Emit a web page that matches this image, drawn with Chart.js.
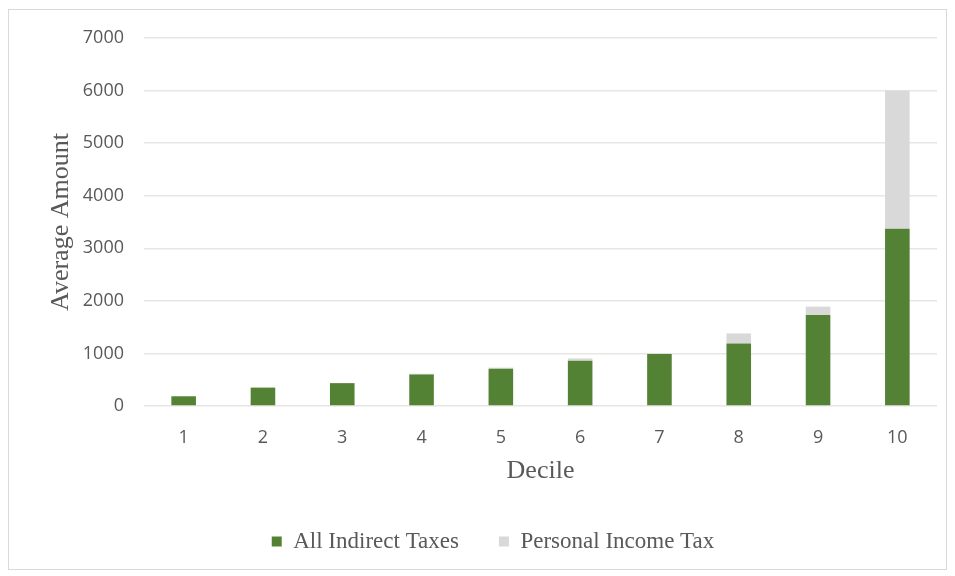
<!DOCTYPE html>
<html>
<head>
<meta charset="utf-8">
<script src="https://cdn.jsdelivr.net/npm/chart.js@4"></script>
<style>
	body { margin: 0; background: #fff; }
	#box {
		position: absolute; left: 8px; top: 9px;
		width: 939px; height: 561px;
		border: 1px solid #d9d9d9; box-sizing: border-box;
	}
</style>
</head>
<body>
<div id="box"><canvas id="chart"></canvas></div>
<script>
// deciles on the x axis
var deciles = ['1', '2', '3', '4', '5', '6', '7', '8', '9', '10'];
// average amounts
var indirectTaxes = [185, 350, 435, 600, 710, 860, 990, 1190, 1730, 3370];
var personalIncomeTax = [0, 0, 0, 15, 20, 45, 10, 190, 160, 2630];
var yTicks = [0, 1000, 2000, 3000, 4000, 5000, 6000, 7000];

var green = '#548235';
var grey = '#d9d9d9';
var textColor = '#595959';
var serif = "'Liberation Serif', 'Times New Roman', serif";
var sans = "'Open Sans', 'Noto Sans', sans-serif";

var ctx = document.getElementById('chart');

var chart = new Chart(ctx, {
	type: 'bar',
	data: {
		labels: deciles,
		datasets: [{
			label: 'All Indirect Taxes',
			data: indirectTaxes,
			backgroundColor: green,
			categoryPercentage: 0.5,
			barPercentage: 0.62
		}, {
			label: 'Personal Income Tax',
			data: personalIncomeTax,
			backgroundColor: grey,
			categoryPercentage: 0.5,
			barPercentage: 0.62
		}]
	},
	options: {
		responsive: true,
		maintainAspectRatio: false,
		animation: false,
		layout: { padding: { top: 28, right: 9, bottom: 6, left: 40 } },
		plugins: {
			tooltip: { enabled: false },
			legend: {
				position: 'bottom',
				labels: {
					boxWidth: 10, boxHeight: 10,
					padding: 40,
					color: textColor,
					font: { family: serif, size: 23 }
				}
			}
		},
		scales: {
			x: {
				stacked: true,
				grid: { display: false },
				border: { display: false },
				ticks: { color: textColor, font: { family: sans, size: 18 }, padding: 13 },
				title: {
					display: true, text: 'Decile', color: textColor,
					font: { family: serif, size: 26 }, padding: { top: 0, bottom: 3 }
				},
				afterFit: function(scale) { scale.height = 84; }
			},
			y: {
				stacked: true,
				min: 0, max: 7000,
				afterBuildTicks: function(scale) {
					scale.ticks = yTicks.map(function(v) { return { value: v }; });
				},
				ticks: {
					color: textColor, font: { family: sans, size: 18 }, padding: 20,
					callback: function(v) { return String(v); }
				},
				grid: { color: '#e6e6e6', lineWidth: 1.5, drawTicks: false },
				border: { display: false },
				title: {
					display: true, text: 'Average Amount', color: textColor,
					font: { family: serif, size: 26 }, padding: { top: -3, bottom: 0 }
				},
				afterFit: function(scale) {
					scale.width = 95;
					scale.paddingTop = 0;
				}
			}
		}
	}
});
</script>
</body>
</html>
